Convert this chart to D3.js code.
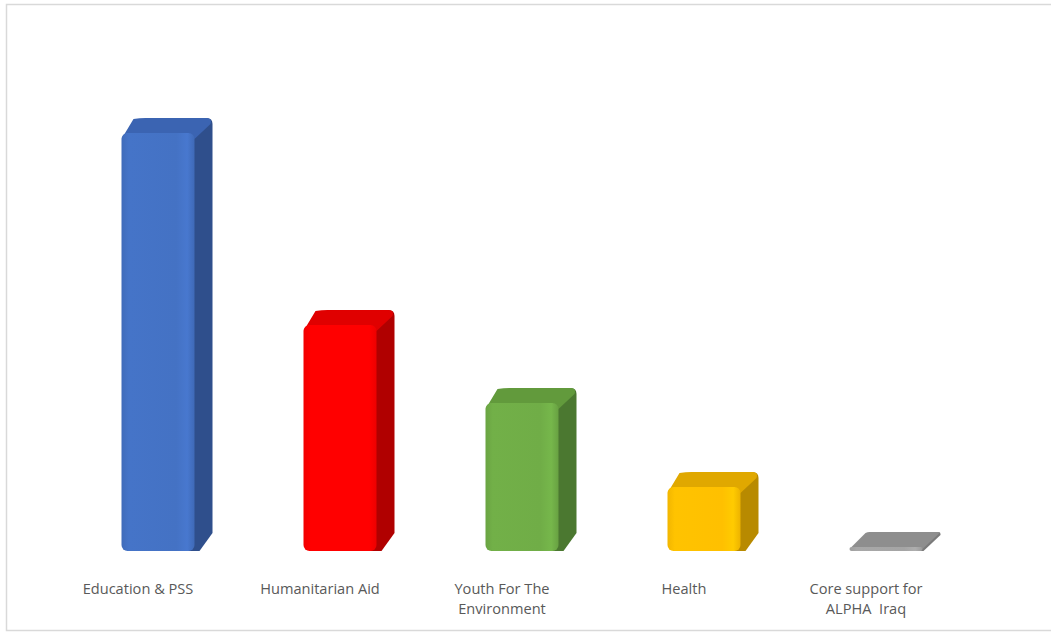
<!DOCTYPE html>
<html>
<head>
<meta charset="utf-8">
<script src="https://cdn.jsdelivr.net/npm/d3@7"></script>
<style>
  html, body { margin: 0; padding: 0; background: #fff; }
  svg { display: block; }
</style>
</head>
<body>
<svg id="chart" width="1051" height="633"></svg>
<script>
const categories = ["Education & PSS", "Humanitarian Aid", "Youth For The Environment", "Health", "Core support for ALPHA  Iraq"];
const labelLines = [["Education & PSS"], ["Humanitarian Aid"], ["Youth For The", "Environment"], ["Health"], ["Core support for", "ALPHA  Iraq"]];
const values = [418, 226, 148, 64, 4];
const frontColors = ["#4472C4", "#FF0000", "#70AD47", "#FFC000", "#A5A5A5"];
const sideColors  = ["#2F4F8C", "#B00000", "#4B7830", "#B88A00", "#7A7A7A"];
const topColors   = ["#3B64B2", "#E00000", "#629A3C", "#E0A800", "#8E8E8E"];

const svg = d3.select("#chart");
const W = 1051, H = 633;

// frame
svg.append("rect").attr("x", 6.5).attr("y", 4.5).attr("width", W).attr("height", 626)
  .attr("fill", "#fff").attr("stroke", "#d9d9d9").attr("stroke-width", 1.5);

const baseY = 551;
const x = d3.scaleBand().domain(categories).range([67, 977]).paddingInner(0).paddingOuter(0);
const y = d3.scaleLinear().domain([0, 418]).range([baseY, 133]);

const barW = 73, dx = 18, dy = -15, r = 6;

const defs = svg.append("defs");
categories.forEach((c, i) => {
  const g = defs.append("linearGradient").attr("id", "fg" + i).attr("x1", 0).attr("x2", 1).attr("y1", 0).attr("y2", 0);
  const base = d3.color(frontColors[i]);
  g.append("stop").attr("offset", "0%").attr("stop-color", base.darker(0.15));
  g.append("stop").attr("offset", "10%").attr("stop-color", base.brighter(0.05));
  g.append("stop").attr("offset", "75%").attr("stop-color", base);
  g.append("stop").attr("offset", "90%").attr("stop-color", base.brighter(0.15));
  g.append("stop").attr("offset", "100%").attr("stop-color", base.darker(0.2));
});

const bars = svg.append("g").selectAll("g.bar").data(categories).join("g").attr("class", "bar");

bars.each(function(c, i) {
  const g = d3.select(this);
  const x0 = x(c) + (x.bandwidth() - barW) / 2;
  const x1 = x0 + barW;
  const yTop = y(values[i]);
  const h = baseY - yTop;
  const rr = Math.min(r, h / 2);
  // side face
  g.append("path")
    .attr("d", `M${x1 - rr},${yTop} L${x1 + dx - rr},${yTop + dy} Q${x1 + dx},${yTop + dy} ${x1 + dx},${yTop + dy + rr} L${x1 + dx},${baseY + dy - rr / 2} L${x1 - 1 + rr},${baseY} L${x1 - rr},${baseY} Z`)
    .attr("fill", sideColors[i]);
  // top face
  g.append("path")
    .attr("d", `M${x0},${yTop + rr} L${x0 + dx - rr},${yTop + dy + 1} Q${x0 + dx},${yTop + dy} ${x0 + dx + rr},${yTop + dy} L${x1 + dx - rr},${yTop + dy} Q${x1 + dx},${yTop + dy} ${x1 + dx - 2},${yTop + dy + rr} L${x1},${yTop + rr} L${x1 - rr},${yTop} L${x0 + rr},${yTop} Z`)
    .attr("fill", topColors[i]);
  // front face
  g.append("rect")
    .attr("x", x0).attr("y", yTop).attr("width", barW).attr("height", h)
    .attr("rx", rr).attr("ry", rr)
    .attr("fill", `url(#fg${i})`);
});

// labels
const labels = svg.append("g").selectAll("text").data(categories).join("text")
  .attr("x", c => x(c) + x.bandwidth() / 2 - 20)
  .attr("y", 594)
  .attr("text-anchor", "middle")
  .attr("font-family", "'Open Sans', 'Noto Sans', sans-serif")
  .attr("font-size", 14.6)
  .attr("fill", "#595959");
labels.each(function(c, i) {
  d3.select(this).selectAll("tspan").data(labelLines[i]).join("tspan")
    .attr("x", x(c) + x.bandwidth() / 2 - 20)
    .attr("dy", (d, j) => j === 0 ? 0 : 20)
    .style("white-space", "pre")
    .text(d => d);
});
</script>
</body>
</html>
